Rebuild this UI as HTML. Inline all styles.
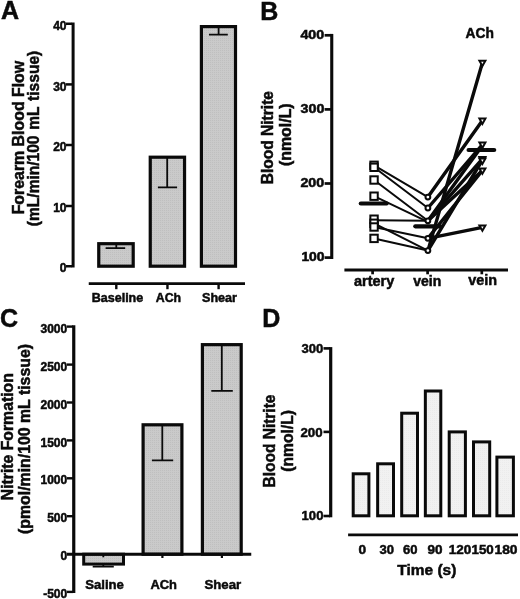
<!DOCTYPE html>
<html lang="en">
<head>
<meta charset="utf-8">
<title>Figure</title>
<style>
  html, body { margin: 0; padding: 0; background: #ffffff; }
  body { width: 520px; height: 599px; overflow: hidden; }
  svg { display: block; will-change: transform; }
  text { font-family: "Liberation Sans", sans-serif; font-weight: bold; fill: #0a0a0a; stroke: #0a0a0a; stroke-width: 0.5px; }
  .ax  { stroke: #0a0a0a; fill: none; stroke-linecap: butt; }
  .bar { fill: url(#ht) #c8c8c8; stroke: #0a0a0a; stroke-width: 2.5; }
  .barD { fill: url(#htD) #f0f0f0; stroke: #0a0a0a; stroke-width: 2.5; }
  .err { stroke: #0a0a0a; stroke-width: 1.8; fill: none; }
  .thin { stroke: #0a0a0a; stroke-width: 2; fill: none; stroke-linecap: round; }
  .thick { stroke: #0a0a0a; stroke-width: 3.4; fill: none; stroke-linecap: round; }
  .mk { stroke: #0a0a0a; stroke-width: 2; fill: #ffffff; }
  .mean { stroke: #0a0a0a; stroke-width: 4.2; fill: none; stroke-linecap: round; }
</style>
</head>
<body>
<svg width="520" height="599" viewBox="0 0 520 599">
<defs>
  <pattern id="ht" width="2" height="2" patternUnits="userSpaceOnUse">
    <rect width="2" height="2" fill="#cacaca"/>
    <rect width="1" height="1" fill="#bfbfbf"/>
  </pattern>
  <pattern id="htD" width="2" height="2" patternUnits="userSpaceOnUse">
    <rect width="2" height="2" fill="#f1f1f1"/>
    <rect width="1" height="1" fill="#ebebeb"/>
  </pattern>
</defs>
<rect x="0" y="0" width="520" height="599" fill="#ffffff"/>

<!-- ================= PANEL A ================= -->
<g id="panelA">
  <text x="1" y="19.1" font-size="25">A</text>

  <!-- y axis -->
  <line class="ax" x1="73.1" y1="22.5" x2="73.1" y2="267.5" stroke-width="3"/>
  <g class="ax" stroke-width="2.5">
    <line x1="66" y1="23.75" x2="72" y2="23.75"/>
    <line x1="66" y1="84.4" x2="72" y2="84.4"/>
    <line x1="66" y1="145" x2="72" y2="145"/>
    <line x1="66" y1="206" x2="72" y2="206"/>
    <line x1="66" y1="266.25" x2="72" y2="266.25"/>
  </g>
  <g font-size="12" text-anchor="end" class="tl">
    <text x="66.5" y="30">40</text>
    <text x="66.5" y="90.7">30</text>
    <text x="66.5" y="151.3">20</text>
    <text x="66.5" y="212">10</text>
    <text x="66.5" y="272.2">0</text>
  </g>

  <!-- y title -->
  <g transform="translate(24,137.6) rotate(-90)">
    <text x="0" y="0" font-size="16" text-anchor="middle" textLength="153.5" lengthAdjust="spacingAndGlyphs">Forearm Blood Flow</text>
  </g>
  <g transform="translate(39.3,138.5) rotate(-90)">
    <text x="0" y="0" font-size="16" text-anchor="middle" style="word-spacing:1.5px" textLength="175.4" lengthAdjust="spacingAndGlyphs">(mL/min/100 mL tissue)</text>
  </g>

  <!-- bars -->
  <g stroke-width="3.2">
  <rect class="bar" style="stroke-width:3.2" x="98.75" y="243.7" width="34.45" height="22.5"/>
  <rect class="bar" style="stroke-width:3.2" x="150.25" y="157.2" width="34.3" height="109"/>
  <rect class="bar" style="stroke-width:3.2" x="201.4" y="26.6" width="34.1" height="239.6"/>
  </g>

  <!-- error bars -->
  <g class="err">
    <path d="M116.3 243.7 V248.1 M105.6 248.1 H125.2"/>
    <path d="M167.2 157.2 V187.4 M157.9 187.4 H177.1"/>
    <path d="M218.6 26.6 V34.6 M209 34.6 H227.8"/>
  </g>

  <!-- x axis -->
  <line class="ax" x1="88.75" y1="283.7" x2="245" y2="283.7" stroke-width="2.7"/>
  <g class="ax" stroke-width="2.4">
    <line x1="116.3" y1="283.5" x2="116.3" y2="289.2"/>
    <line x1="167.45" y1="283.5" x2="167.45" y2="289.2"/>
    <line x1="218.6" y1="283.5" x2="218.6" y2="289.2"/>
  </g>
  <g font-size="12.5">
    <text x="91.8" y="301.7" textLength="51.4" lengthAdjust="spacingAndGlyphs">Baseline</text>
    <text x="155.8" y="301.7" textLength="25.3" lengthAdjust="spacingAndGlyphs">ACh</text>
    <text x="202" y="301.7" textLength="35" lengthAdjust="spacingAndGlyphs">Shear</text>
  </g>
</g>

<!-- ================= PANEL B ================= -->
<g id="panelB">
  <text x="260.3" y="20.2" font-size="25">B</text>

  <!-- y axis -->
  <line class="ax" x1="331.75" y1="33.9" x2="331.75" y2="259" stroke-width="3.1"/>
  <g class="ax" stroke-width="2.7">
    <line x1="324.6" y1="35.3" x2="331" y2="35.3"/>
    <line x1="324.6" y1="109.4" x2="331" y2="109.4"/>
    <line x1="324.6" y1="183.5" x2="331" y2="183.5"/>
    <line x1="324.6" y1="257.6" x2="331" y2="257.6"/>
  </g>
  <g font-size="12">
    <text x="300.4" y="39.3" textLength="23.8" lengthAdjust="spacingAndGlyphs">400</text>
    <text x="300.6" y="113" textLength="23.8" lengthAdjust="spacingAndGlyphs">300</text>
    <text x="300.4" y="186.7" textLength="23.8" lengthAdjust="spacingAndGlyphs">200</text>
    <text x="301.4" y="260.5" textLength="23.2" lengthAdjust="spacingAndGlyphs">100</text>
  </g>

  <!-- y title -->
  <g transform="translate(273.3,137.7) rotate(-90)">
    <text x="0" y="0" font-size="16" text-anchor="middle" textLength="93.3" lengthAdjust="spacingAndGlyphs">Blood Nitrite</text>
  </g>
  <g transform="translate(290.5,134.7) rotate(-90)">
    <text x="0" y="0" font-size="16" text-anchor="middle" textLength="62.7" lengthAdjust="spacingAndGlyphs">(nmol/L)</text>
  </g>

  <text x="465.6" y="38.1" font-size="14" textLength="28.3" lengthAdjust="spacingAndGlyphs">ACh</text>

  <!-- thin lines artery -> vein -->
  <g class="thin">
    <line x1="374.05" y1="165.3" x2="427.9" y2="197.1"/>
    <line x1="374.05" y1="167.3" x2="427.9" y2="208.0"/>
    <line x1="374.05" y1="180.0" x2="427.9" y2="220.8"/>
    <line x1="374.05" y1="196.2" x2="427.9" y2="221.8"/>
    <line x1="374.05" y1="220.2" x2="427.9" y2="220.8"/>
    <line x1="374.05" y1="223.3" x2="427.9" y2="250.6"/>
    <line x1="374.05" y1="227.0" x2="427.9" y2="238.3"/>
    <line x1="374.05" y1="238.4" x2="427.9" y2="250.6"/>
  </g>
  <!-- thick lines vein -> vein ACh -->
  <g class="thick">
    <line x1="427.9" y1="197.1" x2="482.4" y2="120.6"/>
    <line x1="427.9" y1="208.0" x2="482.4" y2="144.6"/>
    <line x1="427.9" y1="220.8" x2="482.4" y2="145.6"/>
    <line x1="427.9" y1="220.8" x2="482.4" y2="158.9"/>
    <line x1="427.9" y1="220.8" x2="482.4" y2="170.4"/>
    <line x1="427.9" y1="250.6" x2="482.4" y2="62.7"/>
    <line x1="427.9" y1="238.3" x2="482.4" y2="227.4"/>
    <line x1="427.9" y1="238.3" x2="482.4" y2="170.4"/>
    <line x1="427.9" y1="250.6" x2="482.4" y2="160"/>
  </g>

  <!-- mean bars -->
  <g class="mean">
    <line x1="360.8" y1="203.5" x2="386.7" y2="203.5"/>
    <line x1="415.3" y1="226.3" x2="440.2" y2="226.3"/>
    <line x1="468.6" y1="150" x2="494.2" y2="150"/>
  </g>

  <!-- squares -->
  <g class="mk">
    <rect x="370.35" y="161.60" width="7.4" height="7.4"/>
    <rect x="370.35" y="163.60" width="7.4" height="7.4"/>
    <rect x="370.35" y="176.30" width="7.4" height="7.4"/>
    <rect x="370.35" y="192.50" width="7.4" height="7.4"/>
    <rect x="370.35" y="215.50" width="7.4" height="7.4"/>
    <rect x="370.35" y="219.60" width="7.4" height="7.4"/>
    <rect x="370.35" y="223.30" width="7.4" height="7.4"/>
    <rect x="370.35" y="234.70" width="7.4" height="7.4"/>
  </g>
  <!-- circles -->
  <g class="mk">
    <circle cx="427.9" cy="197.1" r="2.4"/>
    <circle cx="427.9" cy="208" r="2.4"/>
    <circle cx="427.9" cy="220.8" r="2.4"/>
    <circle cx="427.9" cy="238.3" r="2.4"/>
    <circle cx="427.9" cy="250.6" r="2.4"/>
  </g>
  <!-- triangles (down) -->
  <g class="mk">
    <path d="M479.4 60.7 H485.4 L482.4 66.0 Z"/>
    <path d="M479.4 118.6 H485.4 L482.4 123.9 Z"/>
    <path d="M479.4 142.6 H485.4 L482.4 147.9 Z"/>
    <path d="M479.4 156.9 H485.4 L482.4 162.2 Z"/>
    <path d="M479.4 158.6 H485.4 L482.4 163.9 Z"/>
    <path d="M479.4 168.4 H485.4 L482.4 173.7 Z"/>
    <path d="M479.4 225.4 H485.4 L482.4 230.7 Z"/>
  </g>

  <!-- x axis -->
  <line class="ax" x1="344.4" y1="270" x2="508" y2="270" stroke-width="2.9"/>
  <g class="ax" stroke-width="2.7">
    <line x1="372.6" y1="270" x2="372.6" y2="274.3"/>
    <line x1="427.6" y1="270" x2="427.6" y2="274.3"/>
    <line x1="481.8" y1="270" x2="481.8" y2="274.3"/>
  </g>
  <g font-size="14">
    <text x="354" y="285.9" textLength="40.3" lengthAdjust="spacingAndGlyphs">artery</text>
    <text x="413.3" y="285.9" textLength="28" lengthAdjust="spacingAndGlyphs">vein</text>
    <text x="468.2" y="284.5" textLength="28.8" lengthAdjust="spacingAndGlyphs">vein</text>
  </g>
</g>

<!-- ================= PANEL C ================= -->
<g id="panelC">
  <text x="0" y="327.4" font-size="25">C</text>

  <!-- y axis -->
  <line class="ax" x1="73.75" y1="325.3" x2="73.75" y2="593.1" stroke-width="3.2"/>
  <g class="ax" stroke-width="2.4">
    <line x1="67" y1="326.6" x2="73" y2="326.6"/>
    <line x1="67" y1="364.6" x2="73" y2="364.6"/>
    <line x1="67" y1="402.5" x2="73" y2="402.5"/>
    <line x1="67" y1="440.4" x2="73" y2="440.4"/>
    <line x1="67" y1="478.3" x2="73" y2="478.3"/>
    <line x1="67" y1="516.2" x2="73" y2="516.2"/>
    <line x1="67" y1="591.9" x2="73" y2="591.9"/>
  </g>
  <g font-size="12" text-anchor="end">
    <text x="67.2" y="333.1">3000</text>
    <text x="67.2" y="370.7">2500</text>
    <text x="67.2" y="408.6">2000</text>
    <text x="67.2" y="446.5">1500</text>
    <text x="67.2" y="484.2">1000</text>
    <text x="67.2" y="521.8">500</text>
    <text x="67.2" y="559.9">0</text>
    <text x="67.2" y="597.6">-500</text>
  </g>

  <!-- y title -->
  <g transform="translate(13.3,436.7) rotate(-90)">
    <text x="0" y="0" font-size="16" text-anchor="middle" textLength="127" lengthAdjust="spacingAndGlyphs">Nitrite Formation</text>
  </g>
  <g transform="translate(30.3,439) rotate(-90)">
    <text x="0" y="0" font-size="16" text-anchor="middle" textLength="190" lengthAdjust="spacingAndGlyphs">(pmol/min/100 mL tissue)</text>
  </g>

  <!-- bars -->
  <rect class="bar" style="stroke-width:3" x="83.7" y="554.2" width="39.8" height="9.9"/>
  <rect class="bar" style="stroke-width:3.2" x="143.1" y="424.8" width="38.8" height="129.4"/>
  <rect class="bar" style="stroke-width:3.2" x="202.4" y="344.65" width="38.8" height="209.55"/>

  <!-- error bars -->
  <g class="err">
    <path d="M103.3 564 V566.5 M92.7 566.6 H113.8"/>
    <path d="M103.3 554 V557.3"/>
    <path d="M162.3 424.8 V460.3 M151.9 460.3 H173.2"/>
    <path d="M221.8 344.7 V390.9 M211.3 390.9 H232.8"/>
  </g>

  <!-- zero line -->
  <line class="ax" x1="67" y1="554.2" x2="251.25" y2="554.2" stroke-width="3.1"/>
  <g class="ax" stroke-width="2.2">
    <line x1="162.4" y1="554.2" x2="162.4" y2="558"/>
    <line x1="221.9" y1="554.2" x2="221.9" y2="558"/>
  </g>

  <g font-size="13">
    <text x="85.2" y="589.1" textLength="38.7" lengthAdjust="spacingAndGlyphs">Saline</text>
    <text x="150.5" y="589.1" textLength="26.5" lengthAdjust="spacingAndGlyphs">ACh</text>
    <text x="204.5" y="589.1" textLength="36.7" lengthAdjust="spacingAndGlyphs">Shear</text>
  </g>
</g>

<!-- ================= PANEL D ================= -->
<g id="panelD">
  <text x="262.3" y="326.9" font-size="25">D</text>

  <!-- y axis -->
  <line class="ax" x1="330.7" y1="347.1" x2="330.7" y2="517.3" stroke-width="3.2"/>
  <g class="ax" stroke-width="2.6">
    <line x1="323.5" y1="348.4" x2="330" y2="348.4"/>
    <line x1="323.5" y1="431.9" x2="330" y2="431.9"/>
    <line x1="323.5" y1="516" x2="330" y2="516"/>
  </g>
  <g font-size="13.3">
    <text x="301.4" y="353.2" textLength="21.8" lengthAdjust="spacingAndGlyphs">300</text>
    <text x="300.4" y="436.7" textLength="22.2" lengthAdjust="spacingAndGlyphs">200</text>
    <text x="301.6" y="519.7" textLength="21.8" lengthAdjust="spacingAndGlyphs">100</text>
  </g>

  <!-- y title -->
  <g transform="translate(274.6,441) rotate(-90)">
    <text x="0" y="0" font-size="16" text-anchor="middle" textLength="92.8" lengthAdjust="spacingAndGlyphs">Blood Nitrite</text>
  </g>
  <g transform="translate(293.4,440.9) rotate(-90)">
    <text x="0" y="0" font-size="16" text-anchor="middle" textLength="61.6" lengthAdjust="spacingAndGlyphs">(nmol/L)</text>
  </g>

  <!-- bars -->
  <g class="barD" style="stroke-width:3.0">
    <rect x="353.20" y="473.80" width="15.70" height="42.00"/>
    <rect x="377.65" y="463.80" width="15.85" height="52.00"/>
    <rect x="401.70" y="413.20" width="15.80" height="102.60"/>
    <rect x="425.35" y="391.00" width="15.45" height="124.80"/>
    <rect x="449.20" y="431.90" width="16.20" height="83.90"/>
    <rect x="473.50" y="441.90" width="16.20" height="73.90"/>
    <rect x="496.90" y="457.10" width="16.50" height="58.70"/>
  </g>

  <!-- x axis -->
  <line class="ax" x1="348.1" y1="534.85" x2="518" y2="534.85" stroke-width="2.8"/>

  <g font-size="13">
    <text x="358.6" y="554.4" textLength="7.6" lengthAdjust="spacingAndGlyphs">0</text>
    <text x="379.5" y="554.4" textLength="14.5" lengthAdjust="spacingAndGlyphs">30</text>
    <text x="403" y="554.4" textLength="14.5" lengthAdjust="spacingAndGlyphs">60</text>
    <text x="427.5" y="554.4" textLength="15" lengthAdjust="spacingAndGlyphs">90</text>
    <text x="448.75" y="554.4" textLength="22.5" lengthAdjust="spacingAndGlyphs">120</text>
    <text x="471.5" y="554.4" textLength="22.3" lengthAdjust="spacingAndGlyphs">150</text>
    <text x="494.5" y="554.4" textLength="23" lengthAdjust="spacingAndGlyphs">180</text>
  </g>
  <text x="397.3" y="575.2" font-size="15.5" textLength="59" lengthAdjust="spacingAndGlyphs">Time (s)</text>
</g>
</svg>
</body>
</html>
